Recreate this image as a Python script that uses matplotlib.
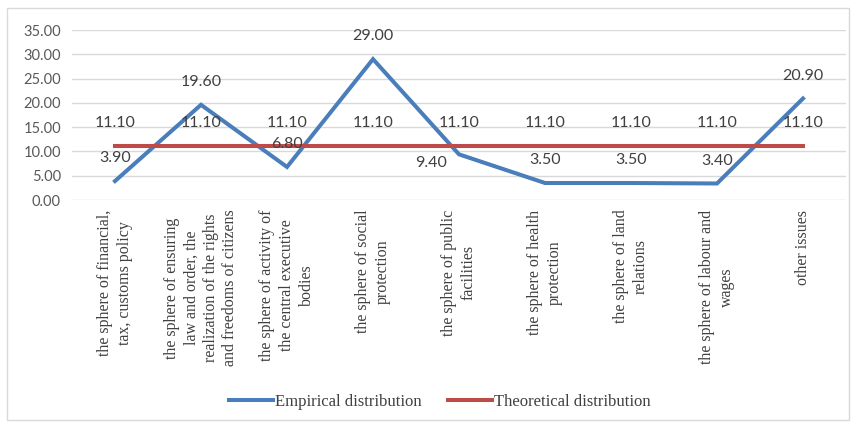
import matplotlib
matplotlib.use("Agg")
import matplotlib.pyplot as plt
from matplotlib.patches import Rectangle
from matplotlib.lines import Line2D

categories = [
    "the sphere of financial,\ntax, customs policy",
    "the sphere of ensuring\nlaw and order, the\nrealization of the rights\nand freedoms of citizens",
    "the sphere of activity of\nthe central executive\nbodies",
    "the sphere of social\nprotection",
    "the sphere of public\nfacilities",
    "the sphere of health\nprotection",
    "the sphere of land\nrelations",
    "the sphere of labour and\nwages",
    "other issues",
]
empirical = [3.90, 19.60, 6.80, 29.00, 9.40, 3.50, 3.50, 3.40, 20.90]
theoretical = [11.10] * 9
y_ticks = [0, 5, 10, 15, 20, 25, 30, 35]

BLUE = "#4A7EBB"
RED = "#BE4B48"
TXT = "#595959"

fig = plt.figure(figsize=(8.57, 4.25), dpi=100)
ax = fig.add_axes([72/857, 1-200/425, (846-72)/857, 170/425])

x = list(range(len(categories)))
ax.plot(x, empirical, color=BLUE, lw=2.9, solid_joinstyle="miter", zorder=3)
ax.plot(x, theoretical, color=RED, lw=2.9, zorder=3)

lab_kw = dict(textcoords="offset points", ha="center", va="center",
              fontsize=11.5, family="Lato", color="#404040", zorder=4)
for i, (xi, v) in enumerate(zip(x, empirical)):
    off = (0, 16.5)
    if i == 4:  # label moved below-left of the point in the reference
        off = (-20, -6.5)
    ax.annotate(f"{v:.2f}", (xi, v), xytext=off, **lab_kw)
for xi, v in zip(x, theoretical):
    ax.annotate(f"{v:.2f}", (xi, v), xytext=(0, 16.5), **lab_kw)

ax.set_xlim(-0.5, len(categories) - 0.5)
ax.set_ylim(0, 35)
ax.set_yticks(y_ticks)
ax.set_yticklabels([f"{t:.2f}" for t in y_ticks], family="Lato", fontsize=10.5, color=TXT)
ax.set_xticks(x)
ax.set_xticklabels(categories, rotation=90, family="Liberation Serif", fontsize=11.5,
                   color="#404040", linespacing=1.3, ha="center", va="top",
                   multialignment="center")
ax.tick_params(axis="both", length=0)
ax.tick_params(axis="x", pad=7)
ax.tick_params(axis="y", pad=8)
ax.grid(axis="y", color="#D9D9D9", lw=1)
ax.set_axisbelow(True)
for s in ax.spines.values():
    s.set_visible(False)

handles = [Line2D([], [], color=BLUE, lw=2.9), Line2D([], [], color=RED, lw=2.9)]
fig.legend(handles, ["Empirical distribution", "Theoretical distribution"],
           loc="center", bbox_to_anchor=(440/857, 1-402/425), ncol=2, frameon=False,
           prop={"family": "Liberation Serif", "size": 12}, handlelength=2.6,
           handletextpad=0.15, columnspacing=1.6, labelcolor="#404040")

fig.patches.append(Rectangle((7/857, 1-420/425), (849-7)/857, (420-8)/425,
                             transform=fig.transFigure, fill=False,
                             edgecolor="#D9D9D9", lw=1))

fig.savefig("out.png", dpi=100, facecolor="white")
